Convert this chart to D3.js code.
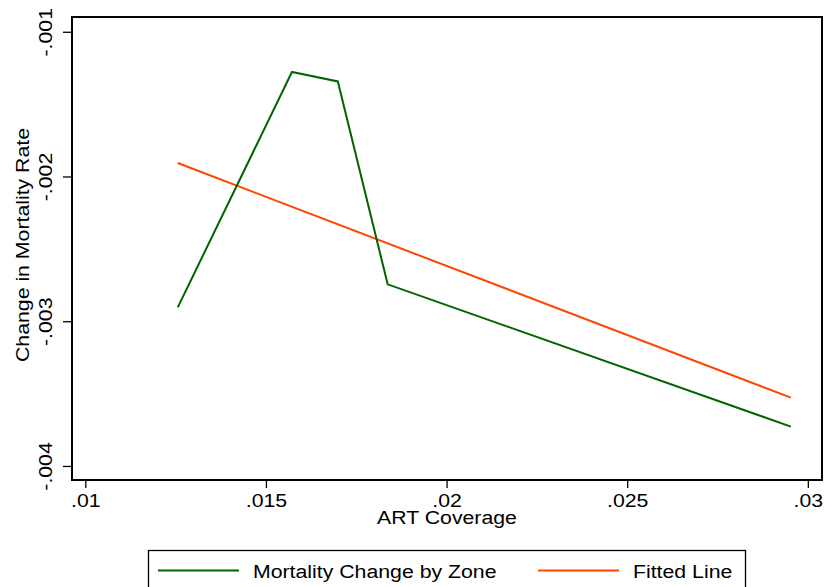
<!DOCTYPE html>
<html>
<head>
<meta charset="utf-8">
<script src="https://cdn.jsdelivr.net/npm/d3@7"></script>
<style>
  body { margin: 0; background: #fff; }
  text { font-family: "Liberation Sans", Arial, sans-serif; fill: #000; }
</style>
</head>
<body>
<script>
// ART coverage by zone and change in mortality
const coverage = [0.01256, 0.01572, 0.01699, 0.01837, 0.02953];
const mortalityChange = [-0.002904, -0.001278, -0.001343, -0.002745, -0.003728];
// fitted line end points
const fitX = [0.01256, 0.02953];
const fitY = [-0.001907, -0.003528];
const xTicks = [0.01, 0.015, 0.02, 0.025, 0.03];
const xTickLabels = [".01", ".015", ".02", ".025", ".03"];
const yTicks = [-0.001, -0.002, -0.003, -0.004];
const yTickLabels = ["-.001", "-.002", "-.003", "-.004"];
const legendLabels = ["Mortality Change by Zone", "Fitted Line"];

const W = 826, H = 587;
const plot = { left: 72, top: 17, right: 822, bottom: 480 };
const stretch = "scale(1.12,1)";
const fs = 19;

const x = d3.scaleLinear().domain([0.009632, 0.030392]).range([plot.left, plot.right]);
const y = d3.scaleLinear().domain([-0.000898, -0.004097]).range([plot.top, plot.bottom]);

const svg = d3.select("body").append("svg")
  .attr("width", W)
  .attr("height", H);

svg.append("rect")
  .attr("width", W).attr("height", H).attr("fill", "#fff");

// axes
const xAxis = svg.append("g")
  .attr("transform", "translate(0," + plot.bottom + ")")
  .call(d3.axisBottom(x).tickValues(xTicks).tickSize(8)
    .tickFormat((d, i) => xTickLabels[i]));
xAxis.select(".domain").remove();
xAxis.selectAll("line").attr("stroke", "#000").attr("stroke-width", 1.3);
xAxis.selectAll("text")
  .attr("y", 27.5).attr("dy", 0)
  .attr("font-size", fs)
  .attr("transform", stretch);

const yAxis = svg.append("g")
  .attr("transform", "translate(" + plot.left + ",0)")
  .call(d3.axisLeft(y).tickValues(yTicks).tickSize(9)
    .tickFormat((d, i) => yTickLabels[i]));
yAxis.select(".domain").remove();
yAxis.selectAll("line").attr("stroke", "#000").attr("stroke-width", 1.3);
yAxis.selectAll("text")
  .attr("x", 0).attr("y", -20).attr("dy", 0)
  .attr("text-anchor", "middle")
  .attr("font-size", fs)
  .attr("transform", "rotate(-90) " + stretch);

// plot frame
svg.append("rect")
  .attr("x", plot.left).attr("y", plot.top)
  .attr("width", plot.right - plot.left)
  .attr("height", plot.bottom - plot.top)
  .attr("fill", "none")
  .attr("stroke", "#000")
  .attr("stroke-width", 2);

// axis titles
svg.append("text")
  .attr("transform", "translate(29,245) rotate(-90) " + stretch)
  .attr("text-anchor", "middle")
  .attr("font-size", fs)
  .text("Change in Mortality Rate");

svg.append("text")
  .attr("transform", "translate(447,524) " + stretch)
  .attr("text-anchor", "middle")
  .attr("font-size", fs)
  .text("ART Coverage");

// lines
const line = d3.line()
  .x(d => x(d[0]))
  .y(d => y(d[1]));

svg.append("path")
  .datum(d3.zip(fitX, fitY))
  .attr("d", line)
  .attr("fill", "none")
  .attr("stroke", "#ff4500")
  .attr("stroke-width", 2);

svg.append("path")
  .datum(d3.zip(coverage, mortalityChange))
  .attr("d", line)
  .attr("fill", "none")
  .attr("stroke", "#006400")
  .attr("stroke-width", 2)
  .attr("stroke-linejoin", "miter");

// legend
const legend = svg.append("g");
legend.append("rect")
  .attr("x", 148.5).attr("y", 550.5)
  .attr("width", 597).attr("height", 50)
  .attr("fill", "#fff")
  .attr("stroke", "#000")
  .attr("stroke-width", 1.3);

const legendItems = [
  { x1: 158, x2: 239, tx: 253, color: "#006400" },
  { x1: 538, x2: 619, tx: 633, color: "#ff4500" }
];
legendItems.forEach((it, i) => {
  legend.append("line")
    .attr("x1", it.x1).attr("x2", it.x2)
    .attr("y1", 570.5).attr("y2", 570.5)
    .attr("stroke", it.color)
    .attr("stroke-width", 2);
  legend.append("text")
    .attr("transform", "translate(" + it.tx + ",577.5) " + stretch)
    .attr("font-size", fs)
    .text(legendLabels[i]);
});
</script>
</body>
</html>
